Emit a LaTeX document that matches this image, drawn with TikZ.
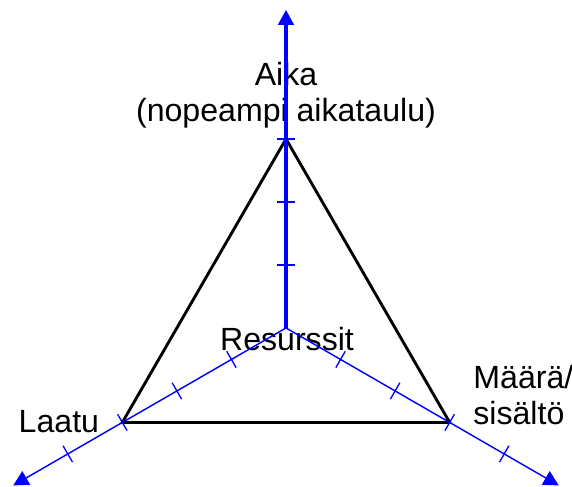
\documentclass[tikz,border=0pt]{standalone}
\usepackage{fontspec}
\setmainfont{Liberation Sans}
\usetikzlibrary{arrows.meta,calc}
\definecolor{axiscolor}{RGB}{0,0,255}
\definecolor{edgecolor}{RGB}{0,0,0}
\tikzset{
axislabel/.style={
  font=\fontsize{14.5}{16}\selectfont,
  text=black,
  inner sep=0pt
},
mainaxis/.style={
  -{Triangle[length=6.8pt,width=7pt]},
  line width=1.4pt,
  draw=axiscolor
},
sideaxis/.style={
  mainaxis,
  line width=0.65pt
},
tickmark/.style={
  draw=axiscolor,
  line width=0.6pt
},
edgeline/.style={
  draw=edgecolor,
  line width=1.3pt
}
}

\begin{document}
\begin{tikzpicture}
  \useasboundingbox (-4.54,-2.524) rectangle (4.54,5.206);
  \coordinate (O) at (0,0);
  % corners and axis ends
  \coordinate (aika) at (90:3);
  \coordinate (laatu) at (210:3);
  \coordinate (maara) at (330:3);
  \coordinate (aikaend) at (90:5.05);
  \coordinate (laatuend) at (210:5);
  \coordinate (maaraend) at (330:5);

  \node[axislabel, align=center, anchor=north] (aikalabel) at (0,4.22)
    {Aika\\(nopeampi aikataulu)};
  \node[axislabel, anchor=base] (resurssit) at (0.016,-0.35) {Resurssit};
  \node[axislabel, anchor=base west] (laatulabel) at (-4.25,-1.667) {Laatu};
  \node[axislabel, align=left, anchor=north west] (maaralabel) at (2.968,-0.587)
    {Määrä/\\sisältö};

  \draw[edgeline] (aika) -- (laatu) -- (maara) -- cycle;

  \draw[mainaxis] (O) -- (aikaend);
  \draw[sideaxis] (O) -- (laatuend);
  \draw[sideaxis] (O) -- (maaraend);

  \foreach \ang/\n in {90/3, 210/4, 330/4}
    \foreach \d in {1,...,\n}
      \draw[tickmark] ($(O)+(\ang:\d)+({\ang+90}:0.15)$) -- ($(O)+(\ang:\d)+({\ang-90}:0.15)$);
\end{tikzpicture}
\end{document}
